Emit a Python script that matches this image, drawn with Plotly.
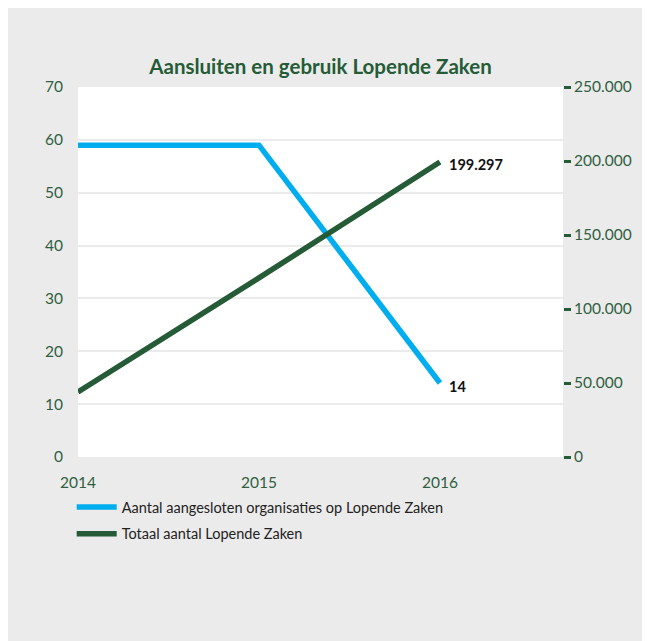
import plotly.graph_objects as go

years = [2014, 2015, 2016]
organisaties = [59, 59, 14]
lopende_zaken = [44000, 121000, 199297]

name_org = "Aantal aangesloten organisaties op Lopende Zaken"
name_zaken = "Totaal aantal Lopende Zaken"
title = "Aansluiten en gebruik Lopende Zaken"

left_ticks = [0, 10, 20, 30, 40, 50, 60, 70]
right_ticks = [0, 50000, 100000, 150000, 200000, 250000]


def fmt(v):
    return f"{v:,}".replace(",", ".")


GREEN = "#255b36"
BLUE = "#00aeef"
AXIS_GREEN = "#2f6040"
FONT = "Lato"

fig = go.Figure()
fig.add_trace(go.Scatter(
    x=years, y=organisaties, name=name_org, mode="lines",
    line=dict(color=BLUE, width=5.5),
    legendgroup="a", yaxis="y",
))
fig.add_trace(go.Scatter(
    x=years, y=lopende_zaken, name=name_zaken, mode="lines",
    line=dict(color=GREEN, width=5.5),
    legendgroup="b", yaxis="y2",
))

label_font = dict(family=FONT, size=14.5, color="#111111", weight="bold")
fig.add_annotation(x=years[-1], y=organisaties[-1], xref="x", yref="y",
                   text=fmt(organisaties[-1]), showarrow=False,
                   xanchor="left", yanchor="middle", xshift=7, yshift=-3,
                   font=label_font)
fig.add_annotation(x=years[-1], y=lopende_zaken[-1], xref="x", yref="y2",
                   text=fmt(lopende_zaken[-1]), showarrow=False,
                   xanchor="left", yanchor="middle", xshift=7, yshift=-2,
                   font=label_font)

W, H = 642, 633
L, R, T, B = 70, 87, 79, 184

fig.update_layout(
    width=W, height=H,
    margin=dict(l=L, r=R, t=T, b=B, pad=0),
    paper_bgcolor="#ebebeb",
    plot_bgcolor="white",
    separators=",.",
    font=dict(family=FONT, size=15.5, color=AXIS_GREEN),
    title=dict(text=f"<b>{title}</b>", x=0.5, xref="paper", xanchor="center",
               y=1 - 59 / H, yref="container", yanchor="middle",
               font=dict(family=FONT, size=20.5, color=GREEN)),
    xaxis=dict(range=[2014, 2016.68], tickvals=years, ticktext=[str(y) for y in years],
               showgrid=False, zeroline=False, showline=False, ticks="",
               ticklabelstandoff=14, tickfont=dict(size=15.5, color=AXIS_GREEN)),
    yaxis=dict(range=[0, 70], tickvals=left_ticks, showgrid=True, gridcolor="#ebebeb",
               gridwidth=2, zeroline=False, showline=False, ticks="",
               ticklabelstandoff=14, tickfont=dict(size=15.5, color=AXIS_GREEN)),
    yaxis2=dict(range=[0, 250000], tickvals=right_ticks, tickformat=",d",
                overlaying="y", side="right", showgrid=False, zeroline=False,
                showline=False, ticks="outside", ticklen=7, tickwidth=2.5,
                tickcolor=GREEN, tickfont=dict(size=15.5, color=AXIS_GREEN)),
    legend=dict(x=-0.013, xanchor="left", y=-0.092, yanchor="top",
                orientation="v", bgcolor="rgba(0,0,0,0)", tracegroupgap=5,
                itemwidth=40,
                font=dict(family=FONT, size=14.5, color="#222222")),
    showlegend=True,
)

fig.write_html("out.html")
